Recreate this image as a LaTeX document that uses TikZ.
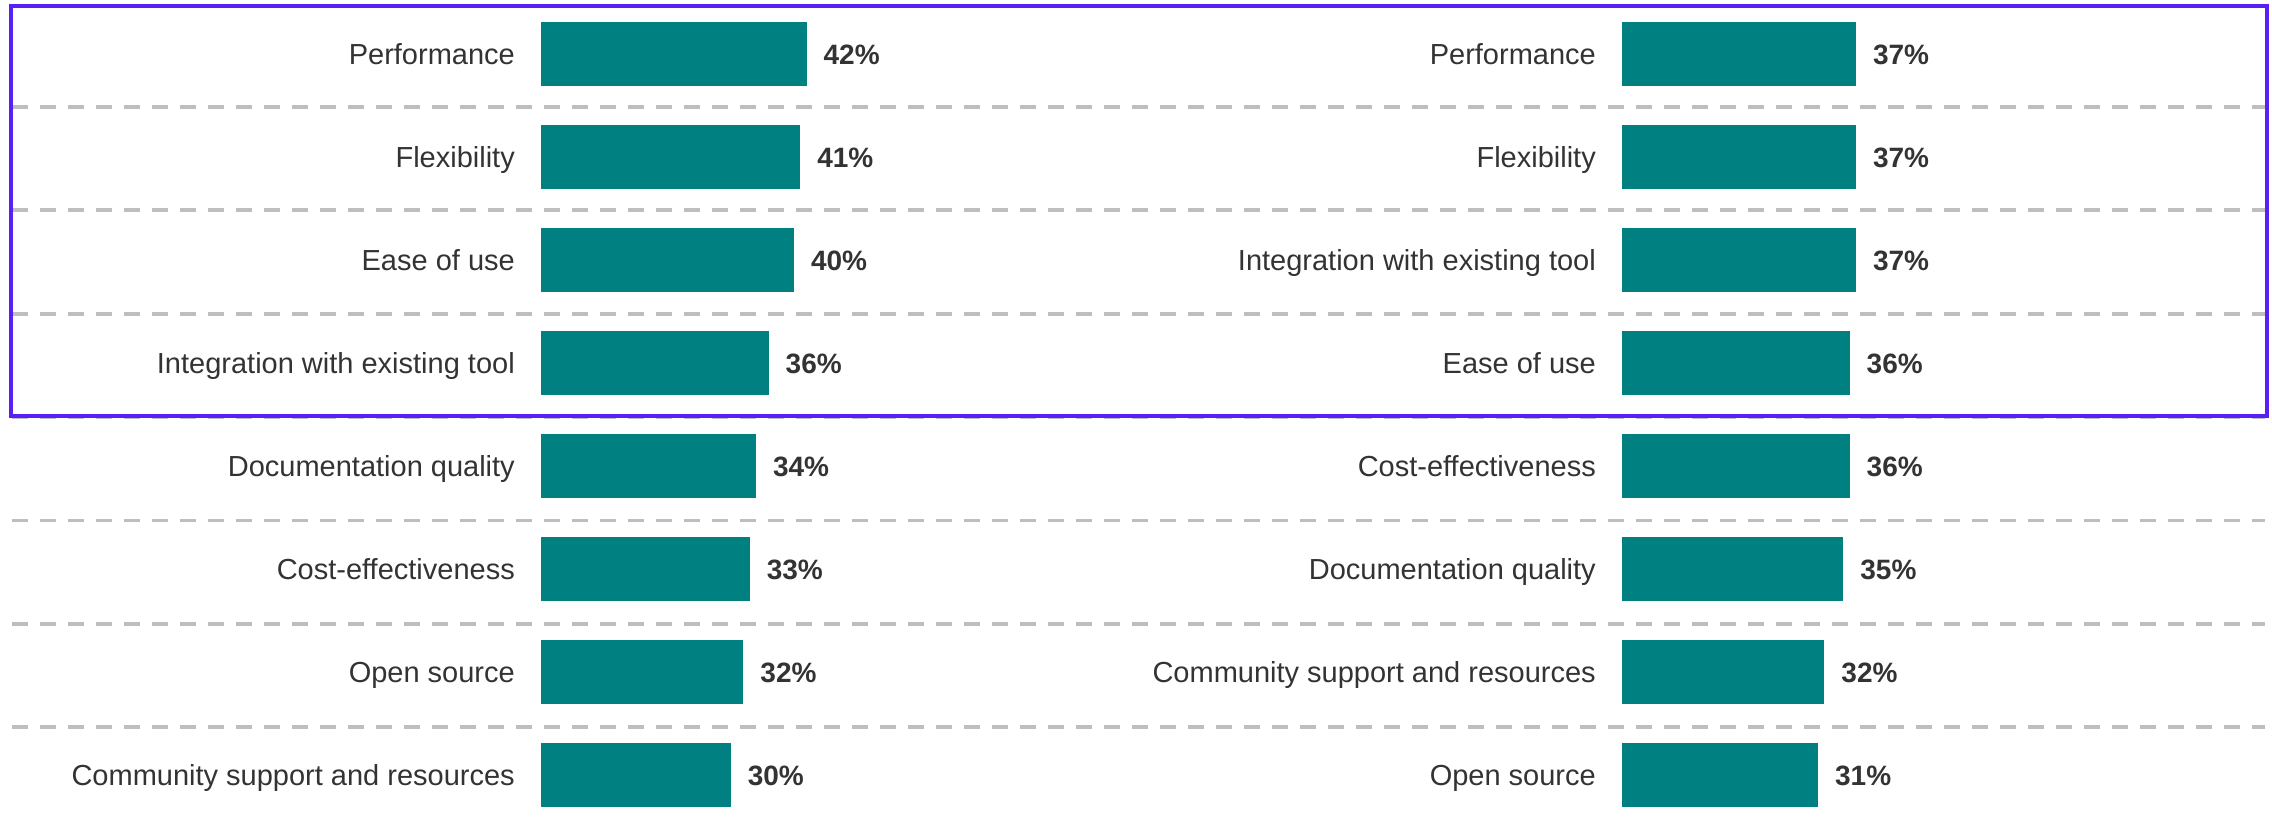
\documentclass[tikz,border=0pt]{standalone}
\usepackage{fontspec}
\setmainfont{Liberation Sans}
\definecolor{barteal}{RGB}{0,128,128}
\definecolor{boxpurple}{RGB}{88,32,245}
\definecolor{txt}{RGB}{51,51,51}
\definecolor{gridgray}{RGB}{190,190,190}
\begin{document}
\begin{tikzpicture}[x=1pt,y=-1pt,
  barbox/.style={rectangle, fill=barteal, draw=none, inner sep=0pt, minimum height=64pt, anchor=west},
  lbl/.style={inner sep=0pt, anchor=base east, text=txt, font=\fontsize{29}{34}\selectfont},
  pct/.style={inner sep=0pt, anchor=base west, text=txt, font=\fontsize{28}{33}\selectfont\bfseries},
  gridline/.style={draw=gridgray, line width=3.8pt, dash pattern=on 16pt off 12pt},
  hibox/.style={draw=boxpurple, line width=4pt}]
\useasboundingbox (0,0) rectangle (2272,828);
% grid lines
\foreach \k in {0,...,6} {
  \pgfmathsetmacro\d{106.8+103.4*\k}
  \draw[gridline] (12,\d) -- (2265,\d);
}
% left panel
\foreach \i/\name/\v in {0/Performance/42,1/Flexibility/41,2/Ease of use/40,3/Integration with existing tool/36,4/Documentation quality/34,5/Cost-effectiveness/33,6/Open source/32,7/Community support and resources/30} {
  \pgfmathsetmacro\c{54+103*\i}
  \pgfmathsetmacro\w{6.32*\v}
  \pgfmathsetmacro\e{541+\w+17}
  \node[barbox, minimum width=\w pt] (lb\i) at (541,\c) {};
  \node[lbl] (ll\i) at (515,\c+10.4) {\name};
  \node[pct] (lp\i) at (\e,\c+10) {\v\%};
}
% right panel
\foreach \i/\name/\v in {0/Performance/37,1/Flexibility/37,2/Integration with existing tool/37,3/Ease of use/36,4/Cost-effectiveness/36,5/Documentation quality/35,6/Community support and resources/32,7/Open source/31} {
  \pgfmathsetmacro\c{54+103*\i}
  \pgfmathsetmacro\w{6.32*\v}
  \pgfmathsetmacro\e{1622+\w+17}
  \node[barbox, minimum width=\w pt] (rb\i) at (1622,\c) {};
  \node[lbl] (rl\i) at (1596,\c+10.4) {\name};
  \node[pct] (rp\i) at (\e,\c+10) {\v\%};
}
% highlight box
\draw[hibox] (10.7,5.7) rectangle (2266.5,415.7);
\end{tikzpicture}
\end{document}
